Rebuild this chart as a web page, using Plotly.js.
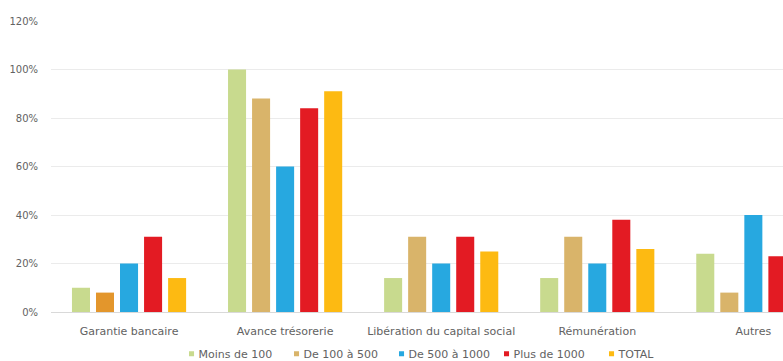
<!DOCTYPE html>
<html>
<head>
<meta charset="utf-8">
<script src="https://cdn.plot.ly/plotly-3.0.1.min.js"></script>
<style>
  html, body { margin: 0; padding: 0; background: #fff; overflow: hidden; }
  #chart { width: 783px; height: 361px; }
</style>
</head>
<body>
<div id="chart"></div>
<script>
// Categories of use
const categories = ["Garantie bancaire", "Avance trésorerie", "Libération du capital social", "Rémunération", "Autres"];

// Share of respondents per size band (%)
const moinsDe100   = [10, 100, 14, 14, 24];
const de100a500    = [8, 88, 31, 31, 8];
const de500a1000   = [20, 60, 20, 20, 40];
const plusDe1000   = [31, 84, 31, 38, 23];
const total        = [14, 91, 25, 26, 25];

const seriesNames = ["Moins de 100", "De 100 à 500", "De 500 à 1000", "Plus de 1000", "TOTAL"];
const seriesValues = [moinsDe100, de100a500, de500a1000, plusDe1000, total];
const seriesColors = ["#C8DA8E", "#D9B46A", "#27A8E0", "#E31B23", "#FDBA12"];
// the "De 100 à 500" bar of the first group is drawn in a deeper orange
const highlightColor = "#E3962C";

const yTicks = [0, 20, 40, 60, 80, 100, 120];
const yTickLabels = yTicks.map(v => v + "%");

const FONT = "DejaVu Sans, Verdana, sans-serif";
const TEXT = "#626262";

const traces = seriesNames.map((name, i) => ({
  type: "bar",
  name: name,
  x: categories,
  y: seriesValues[i],
  marker: {
    color: i === 1
      ? seriesValues[i].map((_, k) => (k === 0 ? highlightColor : seriesColors[i]))
      : seriesColors[i]
  },
  hoverinfo: "name+y"
}));

const layout = {
  width: 783,
  height: 361,
  margin: { l: 51, r: 0, t: 21, b: 49, autoexpand: false },
  paper_bgcolor: "#ffffff",
  plot_bgcolor: "#ffffff",
  font: { family: FONT, color: TEXT, size: 10 },
  barmode: "group",
  bargap: 0.23,
  bargroupgap: 0.25,
  showlegend: true,
  legend: {
    orientation: "h",
    x: 0.5055, xanchor: "center", xref: "paper",
    y: -0.094, yanchor: "top",
    font: { family: FONT, size: 11, color: TEXT },
    itemwidth: 30,
    entrywidth: 60,
    entrywidthmode: "pixels",
    traceorder: "normal",
    bgcolor: "rgba(0,0,0,0)"
  },
  xaxis: {
    type: "category",
    range: [-0.5, 4.19],
    showgrid: false,
    showline: false,
    zeroline: false,
    ticks: "",
    ticklabelstandoff: 11,
    tickfont: { family: FONT, size: 11, color: TEXT },
    automargin: false,
    fixedrange: true
  },
  yaxis: {
    range: [0, 120],
    tickvals: yTicks,
    ticktext: yTickLabels,
    showgrid: true,
    gridcolor: "#EBEBEB",
    gridwidth: 1,
    zeroline: true,
    zerolinecolor: "#D9D9D9",
    zerolinewidth: 1,
    showline: false,
    ticks: "",
    ticklabelstandoff: 12,
    tickfont: { family: FONT, size: 10, color: TEXT },
    automargin: false,
    fixedrange: true
  }
};

Plotly.newPlot("chart", traces, layout, { displayModeBar: false, staticPlot: true }).then(gd => {
  // compact legend swatches: small squares placed just before each label
  gd.querySelectorAll(".legend .traces").forEach((item, i) => {
    item.querySelectorAll(".legendpoints path").forEach(p => {
      p.setAttribute("transform", "translate(33,0) scale(0.42)");
      p.style.fill = seriesColors[i];
      p.style.stroke = "none";
    });
  });
});
</script>
</body>
</html>
